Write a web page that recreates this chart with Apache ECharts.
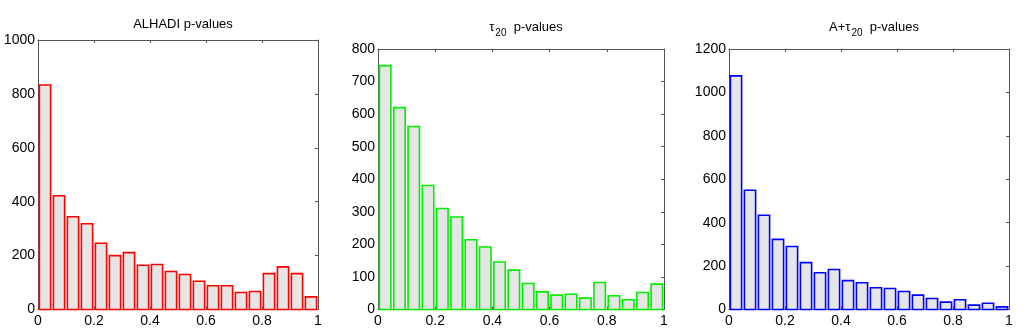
<!DOCTYPE html>
<html>
<head>
<meta charset="utf-8">
<script src="https://cdn.jsdelivr.net/npm/echarts@6/dist/echarts.min.js"></script>
<style>
html,body{margin:0;padding:0;background:#fff;}
#c{width:1024px;height:336px;}
</style>
</head>
<body>
<div id="c"></div>
<script>
// bin centres (p-value bins of width 0.05)
const binCenters = [0.025,0.075,0.125,0.175,0.225,0.275,0.325,0.375,0.425,0.475,
                    0.525,0.575,0.625,0.675,0.725,0.775,0.825,0.875,0.925,0.975];
const alhadiCounts = [833,422,344,318,246,200,211,164,167,141,130,105,88,88,63,67,133,158,133,47];
const tau20Counts  = [749,620,562,381,310,284,214,192,146,121,80,54,44,47,35,83,42,30,52,78];
const aTau20Counts = [1076,549,434,323,290,216,169,184,133,123,100,97,83,66,51,34,45,20,29,12];
const xTicks = [0,0.2,0.4,0.6,0.8,1];
const titles = ['ALHADI p-values', '{t|τ}{s|20}{t|  p-values}', '{t|A+τ}{s|20}{t|  p-values}'];
const yMax = [1000, 800, 1200];
const yStep = [200, 100, 200];
const colors = ['#ff0000', '#00ee00', '#0000ff'];
const allCounts = [alhadiCounts, tau20Counts, aTau20Counts];

const grids = [
  {left:38, width:280, top:40, bottom:26.5},
  {left:378, width:286, top:49, bottom:26.5},
  {left:729, width:280, top:49, bottom:26.5}
];
const titleCenters = [178, 521, 869];
const titleTops = [13, 16, 16];
const HALF = 0.02;
const axisColor = '#555';
const labelFont = {fontFamily:'Liberation Sans, Arial, sans-serif', fontSize:14, color:'#000'};

const option = {
  animation:false,
  backgroundColor:'#fff',
  title: titles.map((t,i)=>({
    text:t, left:titleCenters[i], top:titleTops[i], textAlign:'center',
    textStyle:{fontFamily:'Liberation Sans, Arial, sans-serif', fontSize:13, fontWeight:'normal', color:'#000',
      rich:{
        t:{fontFamily:'Liberation Sans, Arial, sans-serif', fontSize:13, color:'#000', lineHeight:15, verticalAlign:'top'},
        s:{fontFamily:'Liberation Sans, Arial, sans-serif', fontSize:10, color:'#000', lineHeight:11, verticalAlign:'top', padding:[7,0,0,1]}
      }
    }
  })),
  grid: grids,
  xAxis: [],
  yAxis: [],
  series: []
};

for (let i=0;i<3;i++){
  option.xAxis.push({
    type:'value', gridIndex:i, min:0, max:1, interval:0.2, position:'bottom',
    axisLine:{show:true, onZero:false, lineStyle:{color:axisColor, width:1}},
    axisTick:{show:true, inside:true, length:3, lineStyle:{color:axisColor}},
    axisLabel:Object.assign({margin:5, customValues:xTicks, formatter:v=>String(v)}, labelFont),
    splitLine:{show:false}
  });
  option.xAxis.push({
    type:'value', gridIndex:i, min:0, max:1, interval:0.2, position:'top',
    axisLine:{show:true, onZero:false, lineStyle:{color:axisColor, width:1}},
    axisTick:{show:true, inside:true, length:3, lineStyle:{color:axisColor}},
    axisLabel:{show:false}, splitLine:{show:false}
  });
  option.yAxis.push({
    type:'value', gridIndex:i, min:0, max:yMax[i], interval:yStep[i], position:'left',
    axisLine:{show:true, onZero:false, lineStyle:{color:axisColor, width:1}},
    axisTick:{show:true, inside:true, length:3, lineStyle:{color:axisColor}},
    axisLabel:Object.assign({margin:3, formatter:v=>String(v)}, labelFont),
    splitLine:{show:false}
  });
  option.yAxis.push({
    type:'value', gridIndex:i, min:0, max:yMax[i], interval:yStep[i], position:'right',
    axisLine:{show:true, onZero:false, lineStyle:{color:axisColor, width:1}},
    axisTick:{show:true, inside:true, length:3, lineStyle:{color:axisColor}},
    axisLabel:{show:false}, splitLine:{show:false}
  });
  const col = colors[i];
  option.series.push({
    type:'custom', xAxisIndex:i*2, yAxisIndex:i*2,
    data: binCenters.map((c,k)=>[c, allCounts[i][k]]),
    renderItem:function(params, api){
      const c = api.value(0), v = api.value(1);
      const p0 = api.coord([c-HALF, v]);
      const p1 = api.coord([c+HALF, 0]);
      return {type:'rect',
        shape:{x:p0[0], y:p0[1], width:p1[0]-p0[0], height:p1[1]-p0[1]},
        style:{fill:'#e6e6e6', stroke:col, lineWidth:1.6}};
    }
  });
}

const chart = echarts.init(document.getElementById('c'), null, {renderer:'canvas'});
chart.setOption(option);
</script>
</body>
</html>
